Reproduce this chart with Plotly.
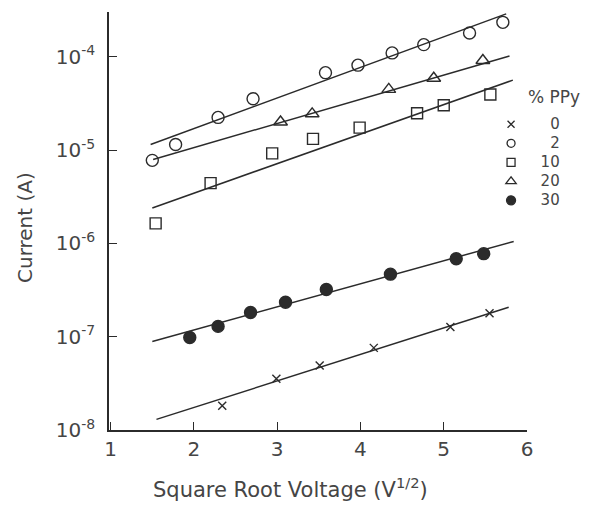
import plotly.graph_objects as go

# Square-root voltage (V^1/2) and measured current (A) for each PPy loading
ppy_labels = ["0", "2", "10", "20", "30"]

x_0 = [2.34, 2.99, 3.51, 4.16, 5.08, 5.55]
i_0 = [1.82e-8, 3.55e-8, 4.90e-8, 7.59e-8, 1.27e-7, 1.78e-7]

x_2 = [1.50, 1.78, 2.29, 2.71, 3.58, 3.97, 4.38, 4.76, 5.31, 5.71]
i_2 = [7.76e-6, 1.15e-5, 2.24e-5, 3.55e-5, 6.76e-5, 8.13e-5, 1.10e-4, 1.35e-4, 1.80e-4, 2.34e-4]

x_10 = [1.54, 2.20, 2.94, 3.43, 3.99, 4.68, 5.00, 5.56]
i_10 = [1.64e-6, 4.42e-6, 9.23e-6, 1.32e-5, 1.74e-5, 2.48e-5, 3.02e-5, 3.94e-5]

x_20 = [3.04, 3.42, 4.34, 4.88, 5.47]
i_20 = [2.00e-5, 2.45e-5, 4.47e-5, 5.89e-5, 9.12e-5]

x_30 = [1.95, 2.29, 2.68, 3.10, 3.59, 4.36, 5.15, 5.48]
i_30 = [9.8e-8, 1.29e-7, 1.82e-7, 2.34e-7, 3.20e-7, 4.68e-7, 6.84e-7, 7.76e-7]

# Straight-line fits (end points) for each loading, same order as ppy_labels
fit_x_start = [1.55, 1.48, 1.50, 1.51, 1.50]
fit_x_end = [5.78, 5.75, 5.83, 5.79, 5.84]
fit_i_start = [1.30e-8, 1.15e-5, 2.40e-6, 7.94e-6, 8.9e-8]
fit_i_end = [2.07e-7, 2.88e-4, 5.62e-5, 1.02e-4, 1.05e-6]

y_tickvals = [1e-8, 1e-7, 1e-6, 1e-5, 1e-4]
y_ticktext = ["10<sup>-8</sup>", "10<sup>-7</sup>", "10<sup>-6</sup>",
              "10<sup>-5</sup>", "10<sup>-4</sup>"]
x_tickvals = [1, 2, 3, 4, 5, 6]

INK = "#2b2b2b"
TEXT = "#454545"
FONT = "DejaVu Sans"

xs = [x_0, x_2, x_10, x_20, x_30]
ys = [i_0, i_2, i_10, i_20, i_30]
symbols = ["x-thin", "circle-open", "square-open", "triangle-up-open", "circle"]
sizes = [8, 12, 11, 12, 12]
legend_sizes = [7, 8, 8, 9, 9]

fig = go.Figure()

for k in range(5):
    fig.add_trace(go.Scatter(
        x=[fit_x_start[k], fit_x_end[k]], y=[fit_i_start[k], fit_i_end[k]],
        mode="lines", line=dict(color=INK, width=1.5),
        showlegend=False, hoverinfo="skip"))

for k in range(5):
    fig.add_trace(go.Scatter(
        x=xs[k], y=ys[k], mode="markers", showlegend=False,
        marker=dict(symbol=symbols[k], size=sizes[k], color=INK,
                    line=dict(color=INK, width=1.4))))

# Legend entries: compact rows, larger digits, right-aligned with figure spaces
for k in range(5):
    label = ppy_labels[k].rjust(3, "\u2007")
    fig.add_trace(go.Scatter(
        x=[None], y=[None], mode="markers",
        name=f"<span style='font-size:15px'>{label}</span>",
        marker=dict(symbol=symbols[k], size=legend_sizes[k], color=INK,
                    line=dict(color=INK, width=1.3))))

fig.update_layout(
    width=596, height=508,
    margin=dict(l=109, r=69, t=12, b=78),
    paper_bgcolor="white", plot_bgcolor="white",
    font=dict(family=FONT, size=20, color=TEXT),
    legend=dict(x=0.914, y=0.766, xanchor="left", yanchor="top",
                bgcolor="rgba(0,0,0,0)", font=dict(size=12, color=TEXT),
                itemwidth=30, tracegroupgap=0),
    xaxis=dict(range=[0.98, 6], tickvals=x_tickvals, showgrid=False, zeroline=False,
               showline=True, linecolor=INK, linewidth=1.5,
               ticks="inside", ticklen=8, tickcolor=INK, tickwidth=1.3,
               tickfont=dict(size=20, color=TEXT)),
    yaxis=dict(type="log", range=[-8, -3.52], tickvals=y_tickvals, ticktext=y_ticktext,
               showgrid=False, zeroline=False,
               showline=True, linecolor=INK, linewidth=1.5,
               ticks="inside", ticklen=8, tickcolor=INK, tickwidth=1.3,
               ticklabelstandoff=8,
               tickfont=dict(size=20, color=TEXT)),
    annotations=[
        dict(text="Square Root Voltage (V<sup>1/2</sup>)", xref="paper", yref="paper",
             x=(290 - 109) / 418, y=(430 - 488) / 418, xanchor="center", yanchor="middle",
             showarrow=False, font=dict(size=21, color=TEXT)),
        dict(text="Current (A)", xref="paper", yref="paper",
             x=(25 - 109) / 418, y=(430 - 228) / 418, xanchor="center", yanchor="middle",
             showarrow=False, textangle=-90, font=dict(size=20, color=TEXT)),
        dict(text="% PPy", xref="paper", yref="paper",
             x=(526 - 109) / 418, y=(430 - 97) / 418, xanchor="left", yanchor="middle",
             showarrow=False, font=dict(size=17, color=TEXT)),
    ],
)

fig.write_html("out.html")
